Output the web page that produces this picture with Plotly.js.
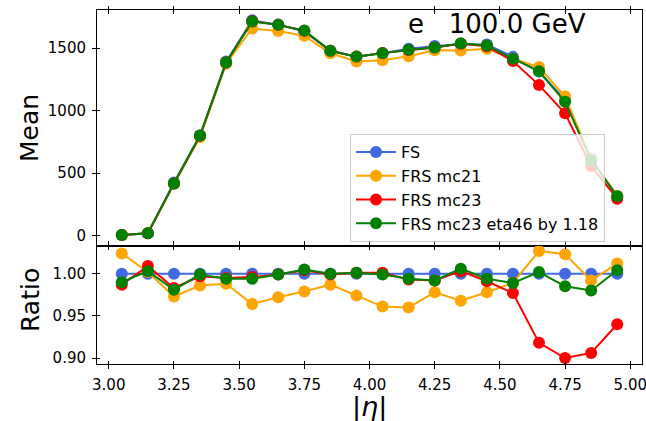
<!DOCTYPE html>
<html>
<head>
<meta charset="utf-8">
<script src="https://cdn.plot.ly/plotly-3.0.1.min.js"></script>
<style>html,body{margin:0;padding:0;background:#fff;}#chart{width:646px;height:421px;}</style>
</head>
<body>
<div id="chart"></div>
<script>
// |eta| bin centres
const eta = [3.05, 3.15, 3.25, 3.35, 3.45, 3.55, 3.65, 3.75, 3.85, 3.95,
             4.05, 4.15, 4.25, 4.35, 4.45, 4.55, 4.65, 4.75, 4.85, 4.95];

// Mean (top panel)
const meanFS   = [5, 19, 425, 802, 1393, 1723, 1689, 1633, 1480, 1432,
                  1461, 1496, 1518, 1531, 1530, 1431, 1313, 1088, 615, 315];
const meanMC21 = [5, 19, 413, 790, 1376, 1658, 1638, 1599, 1460, 1394,
                  1404, 1436, 1484, 1481, 1496, 1416, 1349, 1113, 610, 319];
const meanMC23 = [5, 19, 418, 800, 1385, 1716, 1687, 1640, 1479, 1433,
                  1462, 1485, 1506, 1536, 1515, 1398, 1205, 979, 557, 296];
const meanMC23s = [5, 19, 417, 801, 1385, 1713, 1687, 1641, 1479, 1433,
                  1460, 1487, 1505, 1540, 1521, 1415, 1315, 1072, 603, 316];

// Ratio to FS (bottom panel)
const ratioFS   = [1, 1, 1, 1, 1, 1, 1, 1, 1, 1, 1, 1, 1, 1, 1, 1, 1, 1, 1, 1];
const ratioMC21 = [1.024, 1.002, 0.973, 0.986, 0.988, 0.964, 0.972, 0.979, 0.987, 0.974,
                   0.961, 0.960, 0.978, 0.968, 0.978, 0.989, 1.027, 1.023, 0.992, 1.012];
const ratioMC23 = [0.987, 1.009, 0.983, 0.997, 0.995, 0.996, 0.999, 1.004, 0.999, 1.001,
                   1.001, 0.993, 0.992, 1.003, 0.991, 0.977, 0.918, 0.900, 0.906, 0.940];
const ratioMC23s = [0.990, 1.003, 0.981, 0.999, 0.994, 0.994, 0.999, 1.005, 1.000, 1.001,
                   0.999, 0.994, 0.992, 1.006, 0.994, 0.989, 1.002, 0.985, 0.980, 1.004];

const names  = ['FS', 'FRS mc21', 'FRS mc23', 'FRS mc23 eta46 by 1.18'];
const colors = ['#4169E1', '#FFA500', '#FF0000', '#008000'];
const means  = [meanFS, meanMC21, meanMC23, meanMC23s];
const ratios = [ratioFS, ratioMC21, ratioMC23, ratioMC23s];

const W = 646, H = 421;
const px = v => v / W;
const py = v => 1 - v / H;

const traces = [];
for (let i = 0; i < 4; i++) {
  traces.push({x: eta, y: means[i], name: names[i], mode: 'lines+markers', xaxis: 'x', yaxis: 'y',
    line: {color: colors[i], width: 2}, marker: {color: colors[i], size: 12}, showlegend: true});
}
for (let i = 0; i < 4; i++) {
  traces.push({x: eta, y: ratios[i], name: names[i], mode: 'lines+markers', xaxis: 'x2', yaxis: 'y2',
    line: {color: colors[i], width: 2}, marker: {color: colors[i], size: 12}, showlegend: false});
}
// empty traces so overlay (inner tick) axes get drawn
traces.push({x: [], y: [], xaxis: 'x3', yaxis: 'y3', showlegend: false, hoverinfo: 'skip'});
traces.push({x: [], y: [], xaxis: 'x4', yaxis: 'y4', showlegend: false, hoverinfo: 'skip'});

const xRange = [2.953, 5.043];
const topDom = [py(245.7), py(10)];
const botDom = [py(364), py(245.7)];
const xDom = [px(96.5), px(641.5)];
const tickFont = {family: 'DejaVu Sans', size: 15, color: '#000'};

const baseX = {range: xRange, domain: xDom, tickmode: 'array',
  tickvals: [3.0, 3.25, 3.5, 3.75, 4.0, 4.25, 4.5, 4.75, 5.0],
  ticktext: ['3.00', '3.25', '3.50', '3.75', '4.00', '4.25', '4.50', '4.75', '5.00'],
  showgrid: false, zeroline: false, tickfont: tickFont, tickwidth: 1, tickcolor: '#000', ticklen: 3.5,
  ticklabeloverflow: 'allow'};

const layout = {
  width: W, height: H,
  margin: {l: 0, r: 0, t: 0, b: 0},
  paper_bgcolor: '#fff', plot_bgcolor: 'rgba(0,0,0,0)',
  font: {family: 'DejaVu Sans', color: '#000'},
  showlegend: true,
  legend: {x: px(350), y: py(134), xanchor: 'left', yanchor: 'top', itemwidth: 40,
    bgcolor: 'rgba(255,255,255,0.8)', bordercolor: '#cccccc', borderwidth: 1,
    font: {family: 'DejaVu Sans', size: 16, color: '#000'}, tracegroupgap: 0},
  xaxis: Object.assign({}, baseX, {anchor: 'y', ticks: 'outside', mirror: 'ticks', showline: true,
    linecolor: '#000', linewidth: 1, showticklabels: false}),
  xaxis3: Object.assign({}, baseX, {anchor: 'y', overlaying: 'x', ticks: 'inside', mirror: 'ticks',
    showline: false, showticklabels: false}),
  yaxis: {range: [-80, 1806], domain: topDom, anchor: 'x', tickmode: 'array', tickvals: [0, 500, 1000, 1500],
    ticks: 'outside', ticklen: 3.5, tickwidth: 1, tickcolor: '#000', showline: true, mirror: true,
    linecolor: '#000', linewidth: 1, showgrid: false, zeroline: false, tickfont: tickFont, ticklabelstandoff: 3},
  yaxis3: {range: [-80, 1806], domain: topDom, anchor: 'x3', overlaying: 'y', side: 'left', tickmode: 'array',
    tickvals: [0, 500, 1000, 1500], ticks: 'inside', ticklen: 3.5, tickwidth: 1, tickcolor: '#000',
    showline: false, showgrid: false, zeroline: false, showticklabels: false},
  xaxis2: Object.assign({}, baseX, {anchor: 'y2', ticks: 'outside', mirror: 'ticks', showline: true,
    linecolor: '#000', linewidth: 1, showticklabels: true, ticklabelstandoff: 3}),
  xaxis4: Object.assign({}, baseX, {anchor: 'y2', overlaying: 'x2', ticks: 'inside', mirror: 'ticks',
    showline: false, showticklabels: false}),
  yaxis2: {range: [0.8929, 1.0332], domain: botDom, anchor: 'x2', tickmode: 'array',
    tickvals: [0.90, 0.95, 1.00], ticktext: ['0.90', '0.95', '1.00'],
    ticks: 'outside', ticklen: 3.5, tickwidth: 1, tickcolor: '#000', showline: true, mirror: true,
    linecolor: '#000', linewidth: 1, showgrid: false, zeroline: false, tickfont: tickFont, ticklabelstandoff: 3},
  yaxis4: {range: [0.8929, 1.0332], domain: botDom, anchor: 'x4', overlaying: 'y2', side: 'left', tickmode: 'array',
    tickvals: [0.90, 0.95, 1.00], ticks: 'inside', ticklen: 3.5, tickwidth: 1, tickcolor: '#000',
    showline: false, showgrid: false, zeroline: false, showticklabels: false},
  annotations: [
    {text: 'e\u00a0\u00a0\u00a0100.0 GeV', xref: 'paper', yref: 'paper', x: px(406), y: py(24),
     xanchor: 'left', yanchor: 'middle', showarrow: false, font: {family: 'DejaVu Sans', size: 26, color: '#000'}},
    {text: 'Mean', xref: 'paper', yref: 'paper', x: px(29), y: py(128), textangle: -90,
     xanchor: 'center', yanchor: 'middle', showarrow: false, font: {family: 'DejaVu Sans', size: 25, color: '#000'}},
    {text: 'Ratio', xref: 'paper', yref: 'paper', x: px(30), y: py(300), textangle: -90,
     xanchor: 'center', yanchor: 'middle', showarrow: false, font: {family: 'DejaVu Sans', size: 25, color: '#000'}},
    {text: '|<i>η</i>|', xref: 'paper', yref: 'paper', x: px(369), y: py(389),
     xanchor: 'center', yanchor: 'top', showarrow: false, font: {family: 'DejaVu Sans', size: 27, color: '#000'}}
  ]
};

Plotly.newPlot('chart', traces, layout, {staticPlot: true, displayModeBar: false});
</script>
</body>
</html>
